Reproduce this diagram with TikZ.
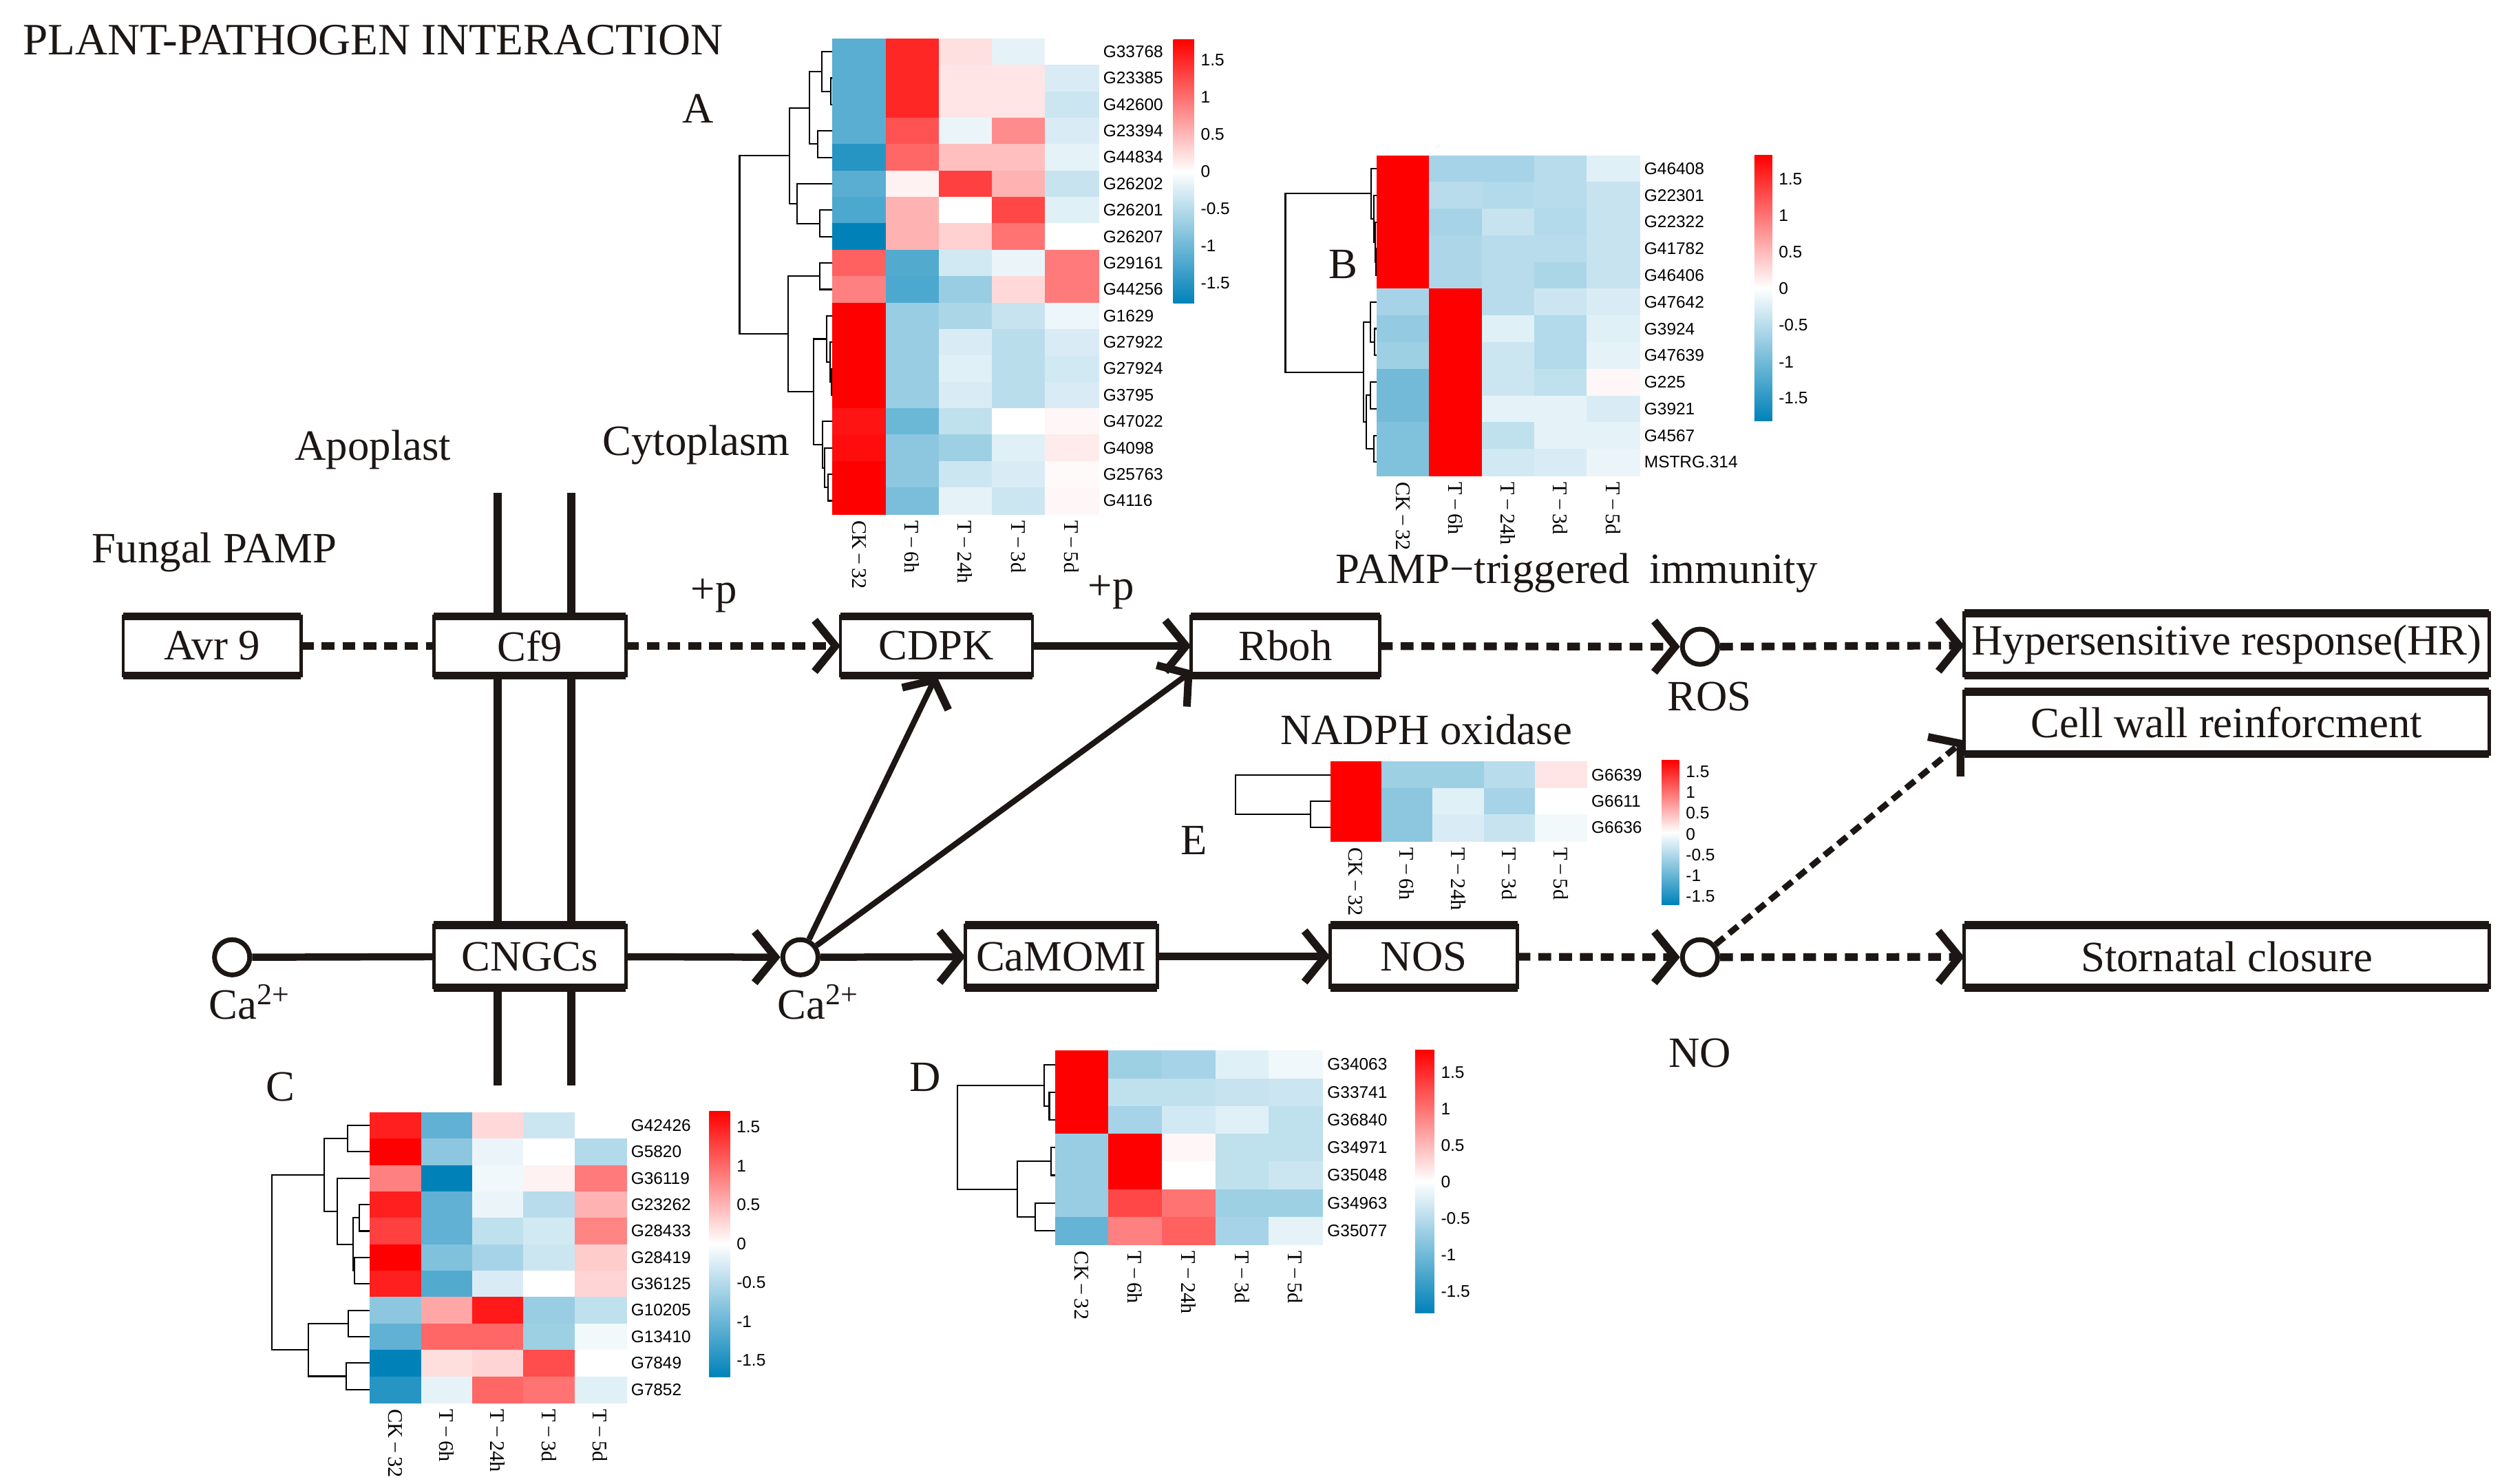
\documentclass[tikz,border=0pt]{standalone}
\usepackage{fontspec}
\setmainfont{Liberation Serif}
\newfontfamily\sansf{Liberation Sans}
\usetikzlibrary{arrows.meta,calc}
\definecolor{hmblue}{RGB}{0,130,185}
\definecolor{hmred}{RGB}{255,0,0}
\definecolor{ink}{RGB}{28,22,20}
\tikzset{
  pbox/.style={draw=ink, line width=2pt, fill=white, inner sep=0pt, outer sep=0pt,
    minimum height=37pt, font=\fontsize{27}{29}\selectfont, text=ink},
  lbl/.style={font=\fontsize{27}{29}\selectfont, inner sep=0pt, text=ink},
  dot/.style={circle, draw=ink, line width=3pt, fill=white, minimum size=22pt, inner sep=0pt},
  flow/.style={draw=ink, line width=4.5pt},
  dflow/.style={draw=ink, line width=4.8pt, dash pattern=on 8pt off 5pt},
  chev/.style={-{Straight Barb[length=13pt,width=32pt,line width=4.8pt]}},
  rowlbl/.style={font=\sansf\fontsize{10.5}{11}\selectfont, anchor=west, inner sep=0pt},
  collbl/.style={font=\fontsize{13}{14}\selectfont, anchor=west, rotate=-90, inner sep=0pt},
  cblbl/.style={font=\sansf\fontsize{10.5}{11}\selectfont, anchor=west, inner sep=0pt},
  dendro/.style={draw=black, line width=0.9pt},
}
% heatmap: #1 left, #2 top, #3 cell w, #4 cell h, #5 rows, #6 values, #7 names
\newcommand\hmap[7]{%
  \foreach \rowv [count=\r from 0] in {#6} {
    \foreach \v [count=\c from 0] in \rowv {
      \ifnum\v<0 \pgfmathtruncatemacro\pp{-\v}\colorlet{cc}{hmblue!\pp!white}\else\colorlet{cc}{hmred!\v!white}\fi
      \fill[cc] ({#1+\c*#3},{#2+\r*#4}) rectangle ++({#3+0.5},{#4+0.5});
    }
  }
  \foreach \nm [count=\r from 0] in {#7} {
    \node[rowlbl] at ({#1+5*#3+3},{#2+(\r+0.5)*#4}) {\nm};
  }
  \foreach \cl [count=\c from 0] in {CK\,−\,32,T\,−\,6h,T\,−\,24h,T\,−\,3d,T\,−\,5d} {
    \node[collbl] at ({#1+(\c+0.5)*#3},{#2+#5*#4+4}) {\cl};
  }
}
% colour bar: #1 left, #2 right, #3 top, #4 bottom, #5 y of 1.5, #6 step
\newcommand\cbar[6]{%
  \shade[top color=hmred, bottom color=hmblue, middle color=white] (#1,#3) rectangle (#2,#4);
  \foreach \t [count=\i from 0] in {1.5,1,0.5,0,-0.5,-1,-1.5}
    \node[cblbl] at ({#2+4},{#5+\i*#6}) {\t};
}
\newcommand\dl[5]{\draw[dendro] (#3,#2) -- (#1,#2) -- (#1,#4) -- (#5,#4);}
\begin{document}
\begin{tikzpicture}[x=1pt,y=-1pt]
\useasboundingbox (0,0) rectangle (1563,927);
\fill[white] (0,0) rectangle (1563,927);

% ---------- texts ----------
\node[lbl, anchor=west] (title) at (14,25) {\fontsize{28}{30}\selectfont PLANT-PATHOGEN INTERACTION};
\node[lbl] (apo) at (233,281) {Apoplast};
\node[lbl] (cyto) at (435,278) {Cytoplasm};
\node[lbl] (fpamp) at (134,345) {Fungal PAMP};
\node[lbl] (p1) at (446,372) {+p};
\node[lbl] (p2) at (694,370) {+p};
\node[lbl] (pti) at (985,358) {PAMP−triggered\hspace{0.45em}immunity};
\node[lbl] (nadph) at (891,456) {NADPH oxidase};
\node[lbl] (roslbl) at (1068,435) {ROS};
\node[lbl] (nolbl) at (1062,658) {NO};
\node[lbl] (la) at (436,68) {A};
\node[lbl] (lb) at (839,165) {B};
\node[lbl] (lc) at (175,679) {C};
\node[lbl] (ld) at (578,673) {D};
\node[lbl] (le) at (746,525) {E};
\node[lbl] (cal1) at (156,626) {Ca\textsuperscript{2+}};
\node[lbl] (cal2) at (511,626) {Ca\textsuperscript{2+}};

% ---------- membrane ----------
\draw[ink, line width=5pt] (311,308) -- (311,678);
\draw[ink, line width=5pt] (357,308) -- (357,678);

% ---------- boxes ----------
\node[pbox, minimum width=111pt] (avr) at (132.5,403.5) {Avr 9};
\node[pbox, minimum width=120pt] (cf) at (331,403.5) {Cf9};
\node[pbox, minimum width=120pt] (cdpk) at (585,403.5) {CDPK};
\node[pbox, minimum width=118pt] (rboh) at (803,403.5) {Rboh};
\node[pbox, minimum width=328pt, minimum height=39pt] (hr) at (1391,402.5) {Hypersensitive response(HR)};
\node[pbox, minimum width=328pt, minimum height=39pt] (cw) at (1391,451.5) {Cell wall reinforcment};
\node[pbox, minimum width=328pt, minimum height=39pt] (st) at (1391,597.5) {Stornatal closure};
\node[pbox, minimum width=120pt, minimum height=39pt] (cngc) at (331,597.5) {CNGCs};
\node[pbox, minimum width=120pt, minimum height=39pt] (camomi) at (663,597.5) {CaMOMI};
\node[pbox, minimum width=117pt, minimum height=39pt] (nos) at (889.5,597.5) {NOS};
\foreach \n in {avr,cf,cdpk,rboh,hr,cw,st,cngc,camomi,nos}
  \draw[ink, line width=5pt] (\n.north west) -- (\n.north east) (\n.south west) -- (\n.south east);

\node[dot] (caL) at (145,598) {};
\node[dot] (caM) at (500,598) {};
\node[dot] (ros) at (1062,404) {};
\node[dot] (no) at (1062,598) {};

% ---------- connectors ----------
\draw[dflow] (avr) -- (cf);
\draw[dflow, chev] (cf) -- (cdpk);
\draw[flow, chev] (cdpk) -- (rboh);
\draw[dflow, chev] (rboh) -- (ros);
\draw[dflow, chev] (ros) -- (hr);
\draw[flow] (caL) -- (cngc);
\draw[flow, chev] (cngc) -- (caM);
\draw[flow, chev] (caM) -- (camomi);
\draw[flow, chev] (camomi) -- (nos);
\draw[dflow, chev] (nos) -- (no);
\draw[dflow, chev] (no) -- (st);
\draw[dflow, chev, line width=3.8pt, dash pattern=on 7pt off 4pt] (no) -- ($(cw.west)+(0,11)$);
\draw[flow, chev, line width=3.6pt] (caM) -- (cdpk.south);
\draw[flow, chev, line width=3.6pt] (caM) -- ($(rboh.south west)+(1,-3)$);

% ---------- heatmap A ----------
\hmap{520}{24}{33.2}{16.5}{18}{
 {-65,85,12,-10,0},{-65,85,10,10,-15},{-65,85,10,10,-20},{-65,68,-8,45,-15},
 {-85,60,25,25,-10},{-65,5,75,30,-22},{-70,30,0,72,-12},{-100,30,18,55,0},
 {62,-68,-18,-8,52},{50,-70,-40,15,52},{100,-40,-33,-22,-7},{100,-40,-15,-27,-15},
 {100,-40,-12,-27,-18},{100,-40,-15,-27,-15},{92,-58,-25,0,3},{95,-45,-38,-12,8},
 {100,-45,-20,-15,2},{100,-52,-10,-20,3}}
 {G33768,G23385,G42600,G23394,G44834,G26202,G26201,G26207,G29161,G44256,G1629,G27922,G27924,G3795,G47022,G4098,G25763,G4116}
\cbar{733}{746}{24.8}{189.4}{37.6}{23.2}
\dl{519}{48.8}{520}{65.3}{520}
\dl{513.5}{32.3}{520}{57.05}{519}
\dl{511}{81.8}{520}{98.3}{520}
\dl{505.7}{44.7}{513.5}{90.05}{511}
\dl{512.2}{131.3}{520}{147.8}{520}
\dl{498}{114.8}{520}{139.55}{512.2}
\dl{493.2}{67.4}{505.7}{127.2}{498}
\dl{512.2}{164.3}{520}{180.8}{520}
\dl{519.5}{230.3}{520}{246.8}{520}
\dl{518.5}{213.8}{520}{238.55}{519.5}
\dl{516.4}{197.3}{520}{226.2}{518.5}
\dl{517.3}{296.3}{520}{312.8}{520}
\dl{515}{279.8}{520}{304.55}{517.3}
\dl{513.7}{263.3}{520}{292.2}{515}
\dl{508.4}{211.75}{516.4}{277.75}{513.7}
\dl{492.2}{172.55}{512.2}{244.75}{508.4}
\dl{462}{97.3}{493.2}{208.65}{492.2}

% ---------- heatmap B ----------
\hmap{860}{97}{32.8}{16.67}{12}{
 {100,-35,-35,-28,-12},{100,-28,-30,-28,-22},{100,-35,-22,-30,-22},{100,-32,-28,-28,-22},
 {100,-32,-28,-33,-22},{-35,100,-28,-20,-15},{-42,100,-12,-30,-12},{-38,100,-20,-30,-10},
 {-55,100,-20,-25,3},{-55,100,-10,-10,-15},{-50,100,-25,-10,-10},{-50,100,-18,-15,-8}}
 {G46408,G22301,G22322,G41782,G46406,G47642,G3924,G47639,G225,G3921,G4567,MSTRG.314}
\cbar{1096}{1107}{97}{263}{112}{22.8}
\dl{859.5}{155.3}{860}{172}{860}
\dl{859}{138.7}{860}{163.65}{859.5}
\dl{858.3}{122}{860}{151.2}{859}
\dl{856.5}{105.3}{860}{136.6}{858.3}
\dl{858.7}{205.3}{860}{222}{860}
\dl{856.1}{188.7}{860}{213.65}{858.7}
\dl{856}{238.7}{860}{255.3}{860}
\dl{858.3}{272}{860}{288.7}{860}
\dl{853.5}{247}{856}{280.35}{858.3}
\dl{851.8}{201.2}{856.1}{263.7}{853.5}
\dl{803}{120.95}{856.5}{232.45}{851.8}

% ---------- heatmap C ----------
\hmap{231}{694.75}{32}{16.5}{11}{
 {88,-62,15,-20,0},{100,-45,-8,0,-30},{50,-100,-6,5,52},{88,-62,-8,-28,30},
 {75,-62,-25,-18,48},{100,-50,-35,-20,20},{88,-68,-15,0,17},{-45,35,90,-40,-25},
 {-62,60,60,-38,-5},{-100,13,17,70,0},{-85,-10,60,55,-12}}
 {G42426,G5820,G36119,G23262,G28433,G28419,G36125,G10205,G13410,G7849,G7852}
\cbar{443}{456}{694}{860}{704}{24.3}
\dl{217.2}{703}{231}{719.5}{231}
\dl{224.4}{752.5}{231}{769}{231}
\dl{221.5}{785.5}{231}{802}{231}
\dl{220.6}{760.75}{224.4}{793.75}{221.5}
\dl{210.8}{736}{231}{777.25}{220.6}
\dl{202.7}{711.25}{217.2}{756.6}{210.8}
\dl{217.6}{818.5}{231}{835}{231}
\dl{216.3}{851.5}{231}{868}{231}
\dl{192.7}{826.75}{217.6}{859.75}{216.3}
\dl{170}{733.9}{202.7}{843.25}{192.7}

% ---------- heatmap D ----------
\hmap{659}{656.35}{33.4}{17.3}{7}{
 {100,-38,-35,-12,-6},{100,-25,-25,-22,-20},{100,-35,-18,-12,-25},{-40,100,3,-25,-25},
 {-40,100,0,-25,-20},{-40,72,55,-38,-38},{-60,50,62,-35,-10}}
 {G34063,G33741,G36840,G34971,G35048,G34963,G35077}
\cbar{884}{896}{656}{820}{670}{22.8}
\dl{655.5}{682.3}{659}{699.6}{659}
\dl{652.1}{665}{659}{690.95}{655.5}
\dl{656.4}{716.9}{659}{734.2}{659}
\dl{646.7}{751.5}{659}{768.8}{659}
\dl{635.4}{725.55}{656.4}{760.15}{646.7}
\dl{598}{677.98}{652.1}{742.85}{635.4}

% ---------- heatmap E ----------
\hmap{831}{475.75}{32}{16.5}{3}{
 {100,-38,-38,-28,10},{100,-45,-12,-35,0},{100,-45,-15,-22,-5}}
 {G6639,G6611,G6636}
\cbar{1038}{1049}{475}{565}{482}{13}
\dl{818.6}{500.5}{831}{517}{831}
\dl{772}{484}{831}{508.75}{818.6}
\end{tikzpicture}
\end{document}
